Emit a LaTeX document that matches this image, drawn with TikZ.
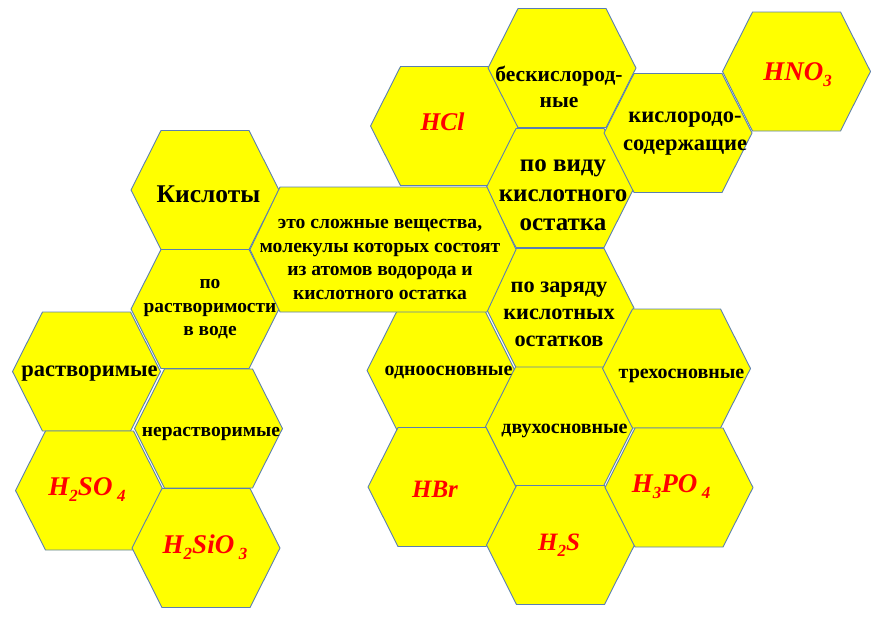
\documentclass[tikz,border=0pt]{standalone}
\usepackage{fontspec}
\setmainfont{Liberation Serif}
\definecolor{hexfill}{HTML}{FFFF00}
\definecolor{hexline}{HTML}{5B7FB0}
\definecolor{formred}{HTML}{FF0000}
\tikzset{
  hexs/.style={fill=hexfill,draw=hexline,line width=0.9pt,line join=round},
  lbl/.style={align=center,inner sep=0pt,text=black},
  frm/.style={inner sep=0pt,anchor=base,text=formred},
}
\newcommand\hexg[4][74]{\draw[hexs] (#2-#1,#3) -- (#2-#1+#4,#3-59.5) -- (#2+#1-#4,#3-59.5) -- (#2+#1,#3) -- (#2+#1-#4,#3+59.5) -- (#2-#1+#4,#3+59.5) -- cycle;}
\newcommand\bff[2]{\fontsize{#1}{#2}\selectfont\bfseries}
\newcommand\bif[1]{\fontsize{#1}{#1}\selectfont\bfseries\itshape}
\newcommand\sbs[1]{\raisebox{-6.5pt}{\fontsize{17}{17}\selectfont #1}}
\begin{document}
\begin{tikzpicture}[x=1pt,y=-1pt]
\useasboundingbox (0,0) rectangle (885,627);
% hexagons
\hexg{205}{190}{30}
\hexg{205}{309}{30}
\hexg{86.5}{371.5}{30}
\hexg{208.5}{428.5}{30}
\hexg{89.5}{490.5}{30}
\hexg{206}{548}{30}
\hexg{444.5}{126}{30}
\hexg{562}{68}{30}
\hexg{560}{188}{30}
\hexg{560}{308}{30}
\hexg{441}{370.5}{30}
\hexg{559.5}{426.5}{30}
\hexg{676.5}{368.5}{30}
\hexg{442}{487}{30}
\hexg{560.5}{545}{30}
\hexg{679}{487.5}{30}
\hexg{678}{133}{30}
\hexg{796.5}{71.5}{30}
\draw[hexs] (250,249.5) -- (280,187) -- (487,187) -- (516,249.5) -- (487,312) -- (280,312) -- cycle;
% labels
\node[lbl,font=\bff{25.5}{28}] (kisl) at (208.5,194.5) {Кислоты};
\node[lbl,font=\bff{19.4}{23.5}] (rastv) at (210,309.5) {по\\растворимости\\в воде};
\node[lbl,font=\bff{22.5}{24}] (rastvorimye) at (89.5,373.5) {растворимые};
\node[lbl,font=\bff{19.5}{22}] (nerastv) at (211,434) {нерастворимые};
\node[lbl,font=\bff{19.6}{23.6}] (def) at (380,259.5) {это сложные вещества,\\молекулы которых состоят\\из атомов водорода и\\кислотного остатка};
\node[lbl,font=\bff{21.5}{26}] (bes) at (559,86.5) {бескислород-\\ные};
\node[lbl,font=\bff{25}{29.5}] (vid) at (563,195.5) {по виду\\кислотного\\остатка};
\node[lbl,font=\bff{22.3}{27}] (zar) at (559,314) {по заряду\\кислотных\\остатков};
\node[lbl,font=\bff{22.5}{28}] (kislsod) at (685,133.5) {кислородо-\\содержащие};
\node[lbl,font=\bff{20}{22}] (odno) at (448.5,373) {одноосновные};
\node[lbl,font=\bff{20}{22}] (dvuh) at (564.5,431) {двухосновные};
\node[lbl,font=\bff{20}{22}] (treh) at (681.5,376) {трехосновные};
% formulas
\node[frm,font=\bif{25.5}] (hcl) at (442.5,130) {HCl};
\node[frm,font=\bif{27}] (hno3) at (797.5,80) {HNO\sbs{3}};
\node[frm,font=\bif{27}] (h2so4) at (87,495) {H\sbs{2}SO\,\sbs{4}};
\node[frm,font=\bif{27}] (h2sio3) at (205,553) {H\sbs{2}SiO\,\sbs{3}};
\node[frm,font=\bif{25}] (hbr) at (435,497) {HBr};
\node[frm,font=\bif{25}] (h2s) at (559,550) {H\sbs{2}S};
\node[frm,font=\bif{27}] (h3po4) at (671,492) {H\sbs{3}PO\,\sbs{4}};
\end{tikzpicture}
\end{document}
